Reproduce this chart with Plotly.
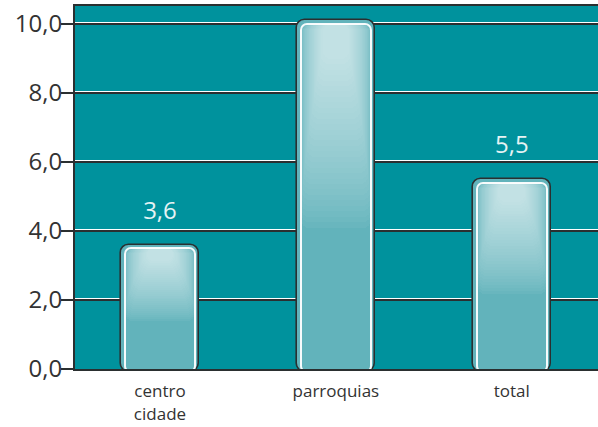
import plotly.graph_objects as go

categories = ["centro<br>cidade", "parroquias", "total"]
values = [3.6, 10.1, 5.5]
y_ticks = [0, 2, 4, 6, 8, 10]

BG = "#00929D"
BAR = (98, 179, 187)
HL = (194, 225, 228)
DARK = "#2a2f30"
FONT = "Open Sans"
TXT = "#333333"

xs = list(range(len(categories)))
outer_w = 0.44
inner_w = 0.40
inset = 0.10
yr = [0, 10.52]
xr = [-0.483, 2.49]
shift = 0.045
label_off = 0.93


def rgb(c):
    return "rgb(%d,%d,%d)" % tuple(int(round(x)) for x in c)


fig = go.Figure()

# main bar body
fig.add_trace(go.Bar(
    x=xs, y=[v + 0.1 for v in values], base=-0.1, width=outer_w,
    marker=dict(color=rgb(BAR), line=dict(color=DARK, width=1.6), cornerradius=9),
    hoverinfo="skip", showlegend=False,
))

# soft highlight: nested opaque layers, brighter towards the top centre
N = 32
for k in range(1, N + 1):
    t = k / N
    frac = 0.60 * (1 - t) + 0.10 * t
    w = inner_w * (1 - 0.62 * t ** 1.6)
    s = t ** 0.75
    col = tuple(BAR[i] + (HL[i] - BAR[i]) * s for i in range(3))
    fig.add_trace(go.Bar(
        x=xs,
        y=[frac * v for v in values],
        base=[v - inset - frac * v for v in values],
        width=w,
        marker=dict(color=rgb(col), line=dict(width=0), cornerradius=8),
        hoverinfo="skip", showlegend=False,
    ))

# inner white stroke
fig.add_trace(go.Bar(
    x=xs, y=[v - inset + 0.1 for v in values], base=-0.1, width=inner_w,
    marker=dict(color="rgba(0,0,0,0)", line=dict(color="rgba(255,255,255,0.95)", width=2), cornerradius=6),
    hoverinfo="skip", showlegend=False,
))

# value labels (only those that fit inside the plot)
fig.add_trace(go.Scatter(
    x=xs, y=[v + label_off for v in values], mode="text",
    text=[f"{v:.1f}".replace(".", ",") if v + label_off < yr[1] else "" for v in values],
    textfont=dict(family=FONT, size=24, color="#E6F3F4"),
    cliponaxis=True, hoverinfo="skip", showlegend=False,
))

# companion axis: white grid lines just above the dark ones
fig.add_trace(go.Scatter(x=[xs[0]], y=[0], yaxis="y2", mode="markers",
                         marker=dict(opacity=0), hoverinfo="skip", showlegend=False))

fig.update_layout(
    width=598, height=427,
    margin=dict(l=75, r=0, t=6, b=58),
    paper_bgcolor="white", plot_bgcolor=BG,
    barmode="overlay", bargap=0,
    separators=",.",
    font=dict(family=FONT, color=TXT),
    xaxis=dict(
        range=xr, tickmode="array", tickvals=xs, ticktext=categories,
        showgrid=False, zeroline=False, showline=True, linecolor=DARK, linewidth=2,
        mirror=True, ticks="", ticklabelstandoff=6, automargin=False,
        tickfont=dict(family=FONT, size=17, color=TXT),
    ),
    yaxis=dict(
        range=yr, tickmode="array", tickvals=y_ticks, tickformat=".1f",
        showgrid=True, gridcolor=DARK, gridwidth=2, zeroline=False,
        showline=True, linecolor=DARK, linewidth=2, automargin=False,
        ticks="outside", ticklen=12, tickwidth=2, tickcolor=DARK,
        ticklabelstandoff=-6,
        tickfont=dict(family=FONT, size=24, color=TXT),
    ),
    yaxis2=dict(
        overlaying="y", range=[yr[0] - shift, yr[1] - shift], automargin=False,
        tickmode="array", tickvals=y_ticks[1:], showticklabels=False,
        showgrid=True, gridcolor="white", gridwidth=1, zeroline=False,
        showline=False, ticks="",
    ),
)

fig.write_html("out.html", config={"displayModeBar": False},
               post_script="document.body.style.margin='0';")
